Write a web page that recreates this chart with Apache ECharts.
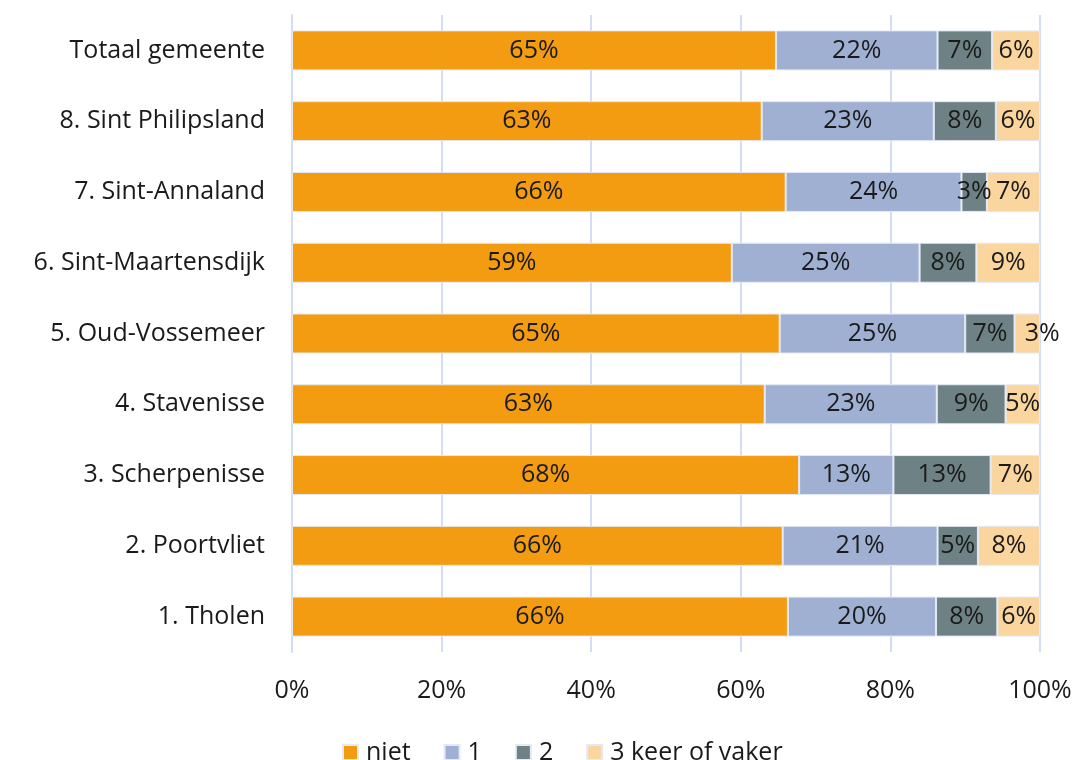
<!DOCTYPE html>
<html>
<head>
<meta charset="utf-8">
<script src="https://cdn.jsdelivr.net/npm/echarts@6/dist/echarts.min.js"></script>
<style>html,body{margin:0;padding:0;background:#fff}#c{width:1078px;height:760px}</style>
</head>
<body>
<div id="c"></div>
<script>
const categories = ["Totaal gemeente","8. Sint Philipsland","7. Sint-Annaland","6. Sint-Maartensdijk","5. Oud-Vossemeer","4. Stavenisse","3. Scherpenisse","2. Poortvliet","1. Tholen"];
const seriesNames = ["niet","1","2","3 keer of vaker"];
const niet  = [64.7, 62.8, 66.0, 58.8, 65.2, 63.2, 67.8, 65.6, 66.3];
const een   = [21.6, 23.0, 23.5, 25.1, 24.8, 23.0, 12.6, 20.7, 19.8];
const twee  = [7.3,  8.3,  3.4,  7.6,  6.6,  9.2, 13.0,  5.4,  8.2];
const drie  = [6.4,  5.9,  7.1,  8.5,  3.4,  4.6,  6.6,  8.3,  5.7];
const ticks = ["0%","20%","40%","60%","80%","100%"];

const colors = ["#F39C12","#A0B0D2","#6E8285","#FBD59E"];
const font = "'Open Sans', 'Noto Sans', sans-serif";
const txt = '#1a1a1a';
const chart = echarts.init(document.getElementById('c'));
const values = [niet, een, twee, drie];
const series = values.map((arr, si) => ({
  name: seriesNames[si],
  type: 'bar',
  stack: 'total',
  barWidth: 40,
  itemStyle: {color: colors[si], borderColor: '#e3e9f6', borderWidth: 1},
  label: {
    show: true, position: 'inside', color: txt, fontSize: 25, fontFamily: font,
    formatter: p => Math.round(p.value) + '%'
  },
  data: arr.map((v, i) => {
    if (si === 3 && categories[i] === "5. Oud-Vossemeer") {
      return {value: v, label: {offset: [15, 0]}};
    }
    return v;
  })
}));
chart.setOption({
  animation: false,
  color: colors,
  grid: {left: 292, right: 38, top: 15, bottom: 108, containLabel: false},
  legend: {
    left: 337, top: 735, itemWidth: 15, itemHeight: 15, itemGap: 33, icon: 'rect',
    textStyle: {fontSize: 25, color: txt, fontFamily: font, padding: [0,0,0,3]},
    data: seriesNames
  },
  xAxis: {
    type: 'value', min: 0, max: 100, interval: 20,
    axisLabel: {fontSize: 25, color: txt, fontFamily: font, margin: 26,
      formatter: v => ticks[Math.round(v / 20)]},
    splitLine: {lineStyle: {color: '#d3ddf3', width: 2}},
    axisLine: {show: false}, axisTick: {show: false}
  },
  yAxis: {
    type: 'category', data: categories, inverse: true,
    axisLabel: {fontSize: 25, color: txt, fontFamily: font, margin: 27},
    axisLine: {show: true, lineStyle: {color: '#d3ddf3', width: 2}},
    axisTick: {show: false}
  },
  series: series
});
</script>
</body>
</html>
